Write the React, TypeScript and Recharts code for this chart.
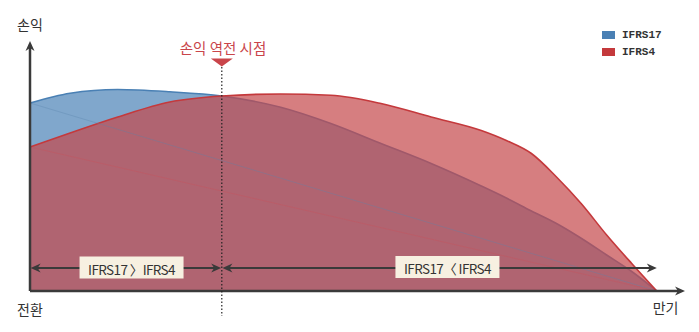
import { ComposedChart, Area, Line, XAxis, YAxis, ReferenceLine, ReferenceDot, Legend } from "recharts";

// horizontal position is time from transition (0) to maturity (100)
const periods = [0, 6.4, 14, 22.3, 30.6, 40, 48, 56, 64, 72, 76, 80, 84, 88, 92, 96, 100];
const ifrs17 = [75.2, 79.1, 80.6, 79.7, 78, 73.5, 67, 59, 51, 42, 37.2, 32, 27, 21, 14.4, 7.8, 0];
const ifrs4 = [57.6, 63.2, 69.6, 75.6, 78, 78.8, 78.3, 75, 69.6, 64.2, 60.2, 55, 45.6, 34.8, 22.4, 11, 0];

const crossover = 30.6; // 손익 역전 시점
const maturity = 100;
const axisEnd = 104.5;
const axisTop = 100;
const spanLevel = 9.2;

const seriesNames = ["IFRS17", "IFRS4"];
const spanLabels = ["IFRS17 〉IFRS4", "IFRS17〈 IFRS4"];
const yAxisLabel = "손익";
const startLabel = "전환";
const endLabel = "만기";
const crossLabel = "손익 역전 시점";

const last = periods.length - 1;
const data = periods.map((t, i) => ({
  t,
  ifrs17: ifrs17[i],
  ifrs4: ifrs4[i],
  trend17: i === 0 ? ifrs17[0] : i === last ? ifrs17[last] : null,
  trend4: i === 0 ? ifrs4[0] : i === last ? ifrs4[last] : null,
}));

const INK = "#3a3a3a";
const FONT = "'Noto Sans CJK KR', 'Noto Sans', sans-serif";

const ArrowHead = ({ cx, cy, dir }: any) => {
  if (cx == null || cy == null) return null;
  const pts: Record<string, string> = {
    right: `${cx},${cy} ${cx - 10},${cy - 4.5} ${cx - 7},${cy} ${cx - 10},${cy + 4.5}`,
    left: `${cx},${cy} ${cx + 10},${cy - 4.5} ${cx + 7},${cy} ${cx + 10},${cy + 4.5}`,
    up: `${cx},${cy} ${cx - 4.5},${cy + 10} ${cx},${cy + 7} ${cx + 4.5},${cy + 10}`,
  };
  return <polygon points={pts[dir]} fill={INK} />;
};

const TextMark = ({ cx, cy, text, color = "#333", size = 14 }: any) => (
  <text x={cx} y={cy} textAnchor="middle" dominantBaseline="central" fill={color} fontSize={size} fontFamily={FONT}>
    {text}
  </text>
);

const LabelBox = ({ cx, cy, text }: any) => (
  <g>
    <rect x={cx - 52} y={cy - 11} width={104} height={22} fill="#f7f0e1" />
    <text x={cx} y={cy + 1} textAnchor="middle" dominantBaseline="central" fill="#333" fontSize={13.5} letterSpacing={-0.6} fontFamily={FONT}>
      {text}
    </text>
  </g>
);

const Marker = ({ cx, cy }: any) => (
  <polygon points={`${cx - 11},${cy - 4} ${cx + 11},${cy - 4} ${cx},${cy + 4}`} fill="#c9454a" />
);

const LegendBox = ({ payload }: any) => (
  <div style={{ fontFamily: "'Liberation Mono', monospace", fontWeight: 700, fontSize: 11, color: "#333" }}>
    {(payload || [])
      .filter((p: any) => seriesNames.includes(p.value))
      .map((p: any) => (
        <div key={p.value} style={{ display: "flex", alignItems: "center", height: 17 }}>
          <span style={{ width: 13, height: 8, background: p.color, marginRight: 7, display: "inline-block" }} />
          {p.value}
        </div>
      ))}
  </div>
);

export default function App() {
  return (
    <div style={{ position: "absolute", left: 0, top: 0, width: 699, height: 332, background: "#fff" }}>
      <ComposedChart width={699} height={332} data={data} margin={{ top: 41, right: 14, bottom: 41, left: 30 }}>
        <XAxis type="number" dataKey="t" domain={[0, axisEnd]} hide />
        <YAxis type="number" domain={[0, axisTop]} hide />
        <Legend
          content={<LegendBox />}
          layout="horizontal"
          verticalAlign="middle"
          align="center"
          wrapperStyle={{ top: 26, left: 602, width: 80 }}
        />
        <Area
          type="monotone"
          dataKey="ifrs17"
          name={seriesNames[0]}
          stroke="#4a80b4"
          strokeWidth={1.6}
          fill="#3c78b0"
          fillOpacity={0.65}
          isAnimationActive={false}
        />
        <Line
          type="linear"
          dataKey="trend17"
          connectNulls
          stroke="#5a84ad"
          strokeOpacity={0.35}
          strokeWidth={1}
          dot={false}
          activeDot={false}
          legendType="none"
          isAnimationActive={false}
        />
        <Area
          type="monotone"
          dataKey="ifrs4"
          name={seriesNames[1]}
          stroke="#c4393c"
          strokeWidth={1.6}
          fill="#c4474a"
          fillOpacity={0.7}
          isAnimationActive={false}
        />
        <Line
          type="linear"
          dataKey="trend4"
          connectNulls
          stroke="#c9525c"
          strokeOpacity={0.4}
          strokeWidth={1}
          dot={false}
          activeDot={false}
          legendType="none"
          isAnimationActive={false}
        />

        {/* axes */}
        <ReferenceLine segment={[{ x: 0, y: 0 }, { x: axisEnd - 1, y: 0 }]} stroke={INK} strokeWidth={2.5} ifOverflow="visible" />
        <ReferenceLine segment={[{ x: 0, y: 0 }, { x: 0, y: axisTop - 1.5 }]} stroke={INK} strokeWidth={2.5} ifOverflow="visible" />
        <ReferenceDot x={axisEnd} y={0} ifOverflow="visible" shape={(p: any) => <ArrowHead {...p} dir="right" />} />
        <ReferenceDot x={0} y={axisTop} ifOverflow="visible" shape={(p: any) => <ArrowHead {...p} dir="up" />} />

        {/* crossover marker */}
        <ReferenceLine
          segment={[{ x: crossover, y: 89.6 }, { x: crossover, y: -10 }]}
          stroke="#222"
          strokeWidth={1.2}
          strokeDasharray="1.5 2"
          ifOverflow="visible"
        />
        <ReferenceDot x={crossover} y={91.4} ifOverflow="visible" shape={(p: any) => <Marker {...p} />} />
        <ReferenceDot x={crossover + 0.2} y={97.6} ifOverflow="visible" shape={(p: any) => <TextMark {...p} text={crossLabel} color="#c9454a" size={14.5} />} />

        {/* spans */}
        <ReferenceLine segment={[{ x: 0.5, y: spanLevel }, { x: crossover - 0.5, y: spanLevel }]} stroke={INK} strokeWidth={2} ifOverflow="visible" />
        <ReferenceLine segment={[{ x: crossover + 0.5, y: spanLevel }, { x: maturity - 0.5, y: spanLevel }]} stroke={INK} strokeWidth={2} ifOverflow="visible" />
        <ReferenceDot x={0.1} y={spanLevel} ifOverflow="visible" shape={(p: any) => <ArrowHead {...p} dir="left" />} />
        <ReferenceDot x={crossover - 0.1} y={spanLevel} ifOverflow="visible" shape={(p: any) => <ArrowHead {...p} dir="right" />} />
        <ReferenceDot x={crossover + 0.1} y={spanLevel} ifOverflow="visible" shape={(p: any) => <ArrowHead {...p} dir="left" />} />
        <ReferenceDot x={maturity} y={spanLevel} ifOverflow="visible" shape={(p: any) => <ArrowHead {...p} dir="right" />} />
        <ReferenceDot x={16.2} y={spanLevel + 0.2} ifOverflow="visible" shape={(p: any) => <LabelBox {...p} text={spanLabels[0]} />} />
        <ReferenceDot x={66.6} y={spanLevel + 0.4} ifOverflow="visible" shape={(p: any) => <LabelBox {...p} text={spanLabels[1]} />} />

        {/* axis captions */}
        <ReferenceDot x={0} y={106.8} ifOverflow="visible" shape={(p: any) => <TextMark {...p} text={yAxisLabel} />} />
        <ReferenceDot x={0} y={-7.2} ifOverflow="visible" shape={(p: any) => <TextMark {...p} text={startLabel} />} />
        <ReferenceDot x={101.4} y={-6.4} ifOverflow="visible" shape={(p: any) => <TextMark {...p} text={endLabel} />} />
      </ComposedChart>
    </div>
  );
}
